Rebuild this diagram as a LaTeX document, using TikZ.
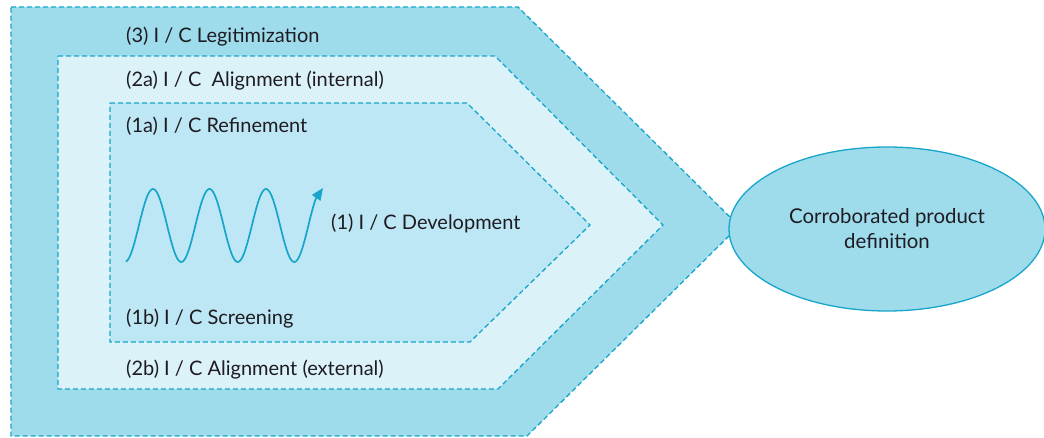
\documentclass[tikz,border=0pt]{standalone}
\usepackage{fontspec}
\setmainfont{Lato}
\usetikzlibrary{shapes.geometric,arrows.meta}
\definecolor{outerfill}{HTML}{9EDCEC}
\definecolor{midfill}{HTML}{DCF2F9}
\definecolor{innerfill}{HTML}{BDE7F4}
\definecolor{edgeblue}{HTML}{17A6CA}
\definecolor{txt}{HTML}{1E1C22}
\tikzset{
  layer/.style={draw=edgeblue, line width=1.3pt, dash pattern=on 5pt off 3pt},
  lbl/.style={anchor=base west, inner sep=0pt, text=txt, font=\fontsize{20}{24}\selectfont},
  goalbox/.style={ellipse, draw=edgeblue, fill=outerfill, line width=1.3pt,
    minimum width=316pt, minimum height=164pt, inner sep=0pt, align=center,
    text=txt, font=\fontsize{20.4}{25}\selectfont},
  wave/.style={draw=edgeblue, line width=1.7pt, -{Triangle[length=12pt,width=10pt]}}
}
\begin{document}
\begin{tikzpicture}[x=1pt,y=-1pt]
\useasboundingbox (0,0) rectangle (1044,438);
% outer layer (3)
\path[layer, fill=outerfill] (11,7) -- (518,7) -- (739,226) -- (527,436) -- (11,436) -- cycle;
% middle layer (2)
\path[layer, fill=midfill] (58,56) -- (495,56) -- (663,225) -- (498,389) -- (58,389) -- cycle;
% inner layer (1)
\path[layer, fill=innerfill] (110,103) -- (467,103) -- (590,225) -- (470,342) -- (110,342) -- cycle;
% goal ellipse
\node[goalbox] (goal) at (887,229) {Corroborated product\\definition};
% labels
\node[lbl] (l3) at (126,43) {(3) I / C Legitimization};
\node[lbl] (l2a) at (126,87) {(2a) I / C\ \ Alignment (internal)};
\node[lbl] (l1a) at (126,133) {(1a) I / C Refinement};
\node[lbl] (l1) at (331,230) {(1) I / C Development};
\node[lbl] (l1b) at (126,324) {(1b) I / C Screening};
\node[lbl] (l2b) at (126,375) {(2b) I / C Alignment (external)};
% development wave
\coordinate (wtip) at (323,188);
\draw[wave] plot[domain=126:316, samples=150] (\x,{225.5-36.5*cos((\x-153)/56.5*360)}) -- (wtip);
\end{tikzpicture}
\end{document}
